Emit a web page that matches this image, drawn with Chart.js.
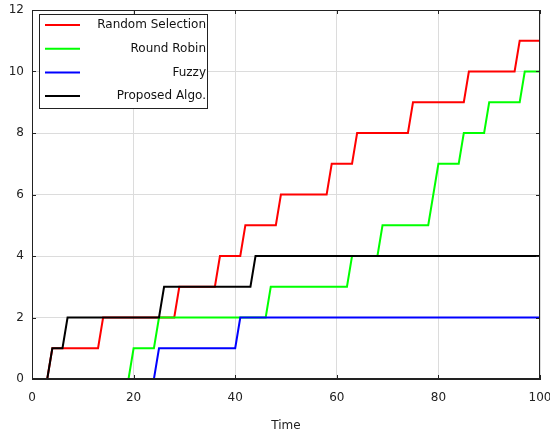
<!DOCTYPE html>
<html>
<head>
<meta charset="utf-8">
<script src="https://cdn.jsdelivr.net/npm/chart.js@4.4.1/dist/chart.umd.min.js"></script>
<style>
  html, body { margin: 0; padding: 0; background: #fff; }
  #wrap { width: 550px; height: 436px; }
</style>
</head>
<body>
<div id="wrap"><canvas id="chart"></canvas></div>
<script>
// Step curves: corner points (time, count)
const seriesNames = ['Random Selection', 'Round Robin', 'Fuzzy', 'Proposed Algo.'];
const seriesColors = ['#ff0000', '#00ff00', '#0000ff', '#000000'];

const randomTime = [1, 3, 4, 13, 14, 28, 29, 36, 37, 41, 42, 48, 49, 58, 59, 63, 64, 74, 75, 85, 86, 95, 96, 100];
const randomVal  = [0, 0, 1, 1, 2, 2, 3, 3, 4, 4, 5, 5, 6, 6, 7, 7, 8, 8, 9, 9, 10, 10, 11, 11];

const robinTime = [3, 19, 20, 24, 25, 46, 47, 62, 63, 68, 69, 78, 80, 84, 85, 89, 90, 96, 97, 100];
const robinVal  = [0, 0, 1, 1, 2, 2, 3, 3, 4, 4, 5, 5, 7, 7, 8, 8, 9, 9, 10, 10];

const fuzzyTime = [3, 24, 25, 40, 41, 100];
const fuzzyVal  = [0, 0, 1, 1, 2, 2];

const proposedTime = [1, 3, 4, 6, 7, 25, 26, 43, 44, 100];
const proposedVal  = [0, 0, 1, 1, 2, 2, 3, 3, 4, 4];

const xTicks = [0, 20, 40, 60, 80, 100];
const yTicks = [0, 2, 4, 6, 8, 10, 12];

// drawing order: blue on top, then black, green, red
const drawOrder = [3, 2, 0, 1];

function toPoints(t, v) {
    return t.map((x, i) => ({ x: x, y: v[i] }));
}

const allSeries = [
    toPoints(randomTime, randomVal),
    toPoints(robinTime, robinVal),
    toPoints(fuzzyTime, fuzzyVal),
    toPoints(proposedTime, proposedVal)
];

const FONT = 'DejaVu Sans';

// box around the plot, inward tick marks and the boxed legend
const framePlugin = {
    id: 'frame',
    afterDraw(chart) {
        const ctx = chart.ctx;
        const a = chart.chartArea;
        const xs = chart.scales.x, ys = chart.scales.y;
        ctx.save();
        ctx.strokeStyle = '#222';
        ctx.lineWidth = 1;
        ctx.strokeRect(a.left + 0.5, a.top + 0.5, a.right - a.left - 1, a.bottom - a.top - 1);

        ctx.beginPath();
        xTicks.forEach(v => {
            const px = Math.round(xs.getPixelForValue(v)) + 0.5;
            ctx.moveTo(px, a.bottom); ctx.lineTo(px, a.bottom - 4);
            ctx.moveTo(px, a.top); ctx.lineTo(px, a.top + 4);
        });
        yTicks.forEach(v => {
            const py = Math.round(ys.getPixelForValue(v)) + 0.5;
            ctx.moveTo(a.left, py); ctx.lineTo(a.left + 4, py);
            ctx.moveTo(a.right, py); ctx.lineTo(a.right - 4, py);
        });
        ctx.stroke();

        // legend
        const lx = a.left + 7, ly = a.top + 4, lw = 168, lh = 94;
        ctx.fillStyle = '#fff';
        ctx.fillRect(lx, ly, lw, lh);
        ctx.strokeStyle = '#222';
        ctx.strokeRect(lx + 0.5, ly + 0.5, lw, lh);
        ctx.font = '12px "' + FONT + '"';
        ctx.textAlign = 'right';
        ctx.textBaseline = 'middle';
        seriesNames.forEach((name, i) => {
            const y = ly + 11 + i * 23.7;
            ctx.strokeStyle = seriesColors[i];
            ctx.lineWidth = 2;
            ctx.beginPath();
            ctx.moveTo(lx + 6, y); ctx.lineTo(lx + 41, y);
            ctx.stroke();
            ctx.fillStyle = '#111';
            ctx.fillText(name, lx + lw - 1, y);
        });
        ctx.restore();
    }
};

const datasets = seriesNames.map((name, i) => ({
    label: name,
    data: allSeries[i],
    borderColor: seriesColors[i],
    backgroundColor: seriesColors[i],
    borderWidth: 2,
    pointRadius: 0,
    tension: 0,
    fill: false,
    order: drawOrder[i]
}));

new Chart(document.getElementById('chart'), {
    type: 'line',
    data: { datasets: datasets },
    plugins: [framePlugin],
    options: {
        responsive: true,
        maintainAspectRatio: false,
        animation: false,
        layout: { padding: { top: 10, right: 10, left: 0, bottom: 0 } },
        plugins: {
            legend: { display: false },
            tooltip: { enabled: false }
        },
        scales: {
            x: {
                type: 'linear',
                min: 0,
                max: 100,
                afterBuildTicks: s => { s.ticks = xTicks.map(v => ({ value: v })); },
                afterFit: s => { s.height = 57; s.paddingLeft = 0; s.paddingRight = 0; },
                ticks: {
                    color: '#222',
                    padding: 12,
                    font: { family: FONT, size: 12 }
                },
                grid: { color: '#dcdcdc', drawTicks: false },
                border: { color: '#222' },
                title: {
                    display: true,
                    text: 'Time',
                    color: '#222',
                    font: { family: FONT, size: 12 },
                    padding: { top: 0, bottom: 3 }
                }
            },
            y: {
                min: 0,
                max: 12,
                afterBuildTicks: s => { s.ticks = yTicks.map(v => ({ value: v })); },
                afterFit: s => { s.width = 32; s.paddingTop = 0; s.paddingBottom = 0; },
                ticks: {
                    color: '#222',
                    padding: 8,
                    font: { family: FONT, size: 12 }
                },
                grid: { color: '#dcdcdc', drawTicks: false },
                border: { color: '#222' }
            }
        }
    }
});
</script>
</body>
</html>
